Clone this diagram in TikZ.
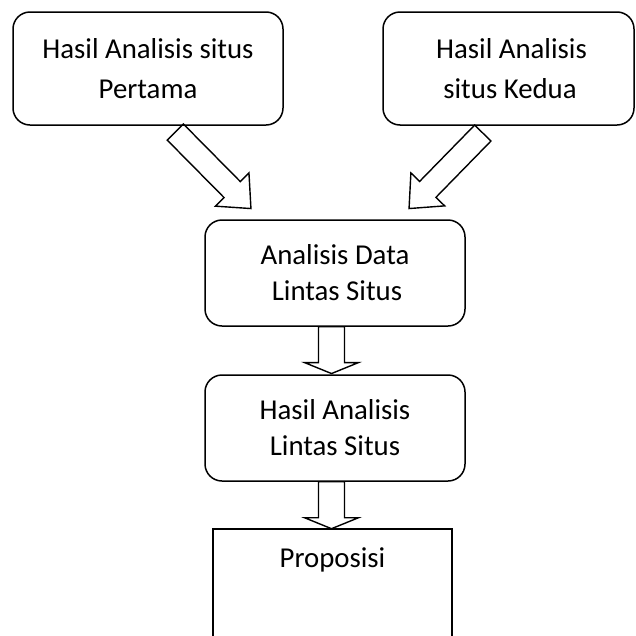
\documentclass[tikz,border=0pt]{standalone}
\usepackage{fontspec}
\setmainfont{Carlito}
\usetikzlibrary{calc}

% hollow block arrow: tail, tip, shaft half-width, head half-width, head length
\newcommand{\hollowarrow}[5]{%
  \coordinate (hb) at ($(#2)!#5!(#1)$);
  \draw[arrowline]
    ($(#1)!#3!90:(#2)$) -- ($(hb)!#3!90:(#2)$) -- ($(hb)!#4!90:(#2)$) -- (#2)
    -- ($(hb)!#4!-90:(#2)$) -- ($(hb)!#3!-90:(#2)$) -- ($(#1)!#3!-90:(#2)$) -- cycle;}

\tikzset{
  roundbox/.style={draw, line width=1.5pt, rounded corners=17pt, align=center,
    inner sep=0pt, font=\fontsize{28.8}{36}\selectfont},
  widebox/.style={roundbox, font=\fontsize{28.8}{40}\selectfont},
  plainbox/.style={draw, line width=1.5pt, inner sep=0pt},
  label text/.style={inner sep=0pt, font=\fontsize{28.8}{36}\selectfont},
  arrowline/.style={line width=1.4pt, line join=miter},
}

\begin{document}
\begin{tikzpicture}[x=1pt, y=-1pt]
  \useasboundingbox (0,0) rectangle (636,635);
  \clip (0,0) rectangle (636,635);

  % source boxes
  \node[widebox, minimum width=270pt, minimum height=113pt] (first) at (148,68.5)
    {Hasil Analisis situs\\Pertama};
  \node[widebox, minimum width=251pt, minimum height=113pt] (second) at (508.5,68.5)
    {\hspace*{6pt}Hasil Analisis\\\hspace*{3pt}situs Kedua};

  % cross-site analysis
  \node[roundbox, minimum width=260pt, minimum height=106pt] (cross) at (335,273)
    {Analisis Data\\\hspace*{4pt}Lintas Situs};
  \node[roundbox, minimum width=260pt, minimum height=106pt] (result) at (335,428)
    {Hasil Analisis\\Lintas Situs};

  % proposition box
  \node[plainbox, minimum width=239pt, minimum height=150pt, anchor=north] (prop) at (332.5,528) {};
  \node[label text, anchor=base] (proptext) at ($(prop.north)+(0,39)$) {Proposisi};

  % arrow end points
  \coordinate (t1) at ($(first.south)+(27.3,6.3)$);
  \coordinate (h1) at ($(cross.north west)+(46.7,-10.7)$);
  \coordinate (t2) at ($(second.south)+(-25.7,7.3)$);
  \coordinate (h2) at ($(cross.north east)+(-56.7,-10.7)$);
  \coordinate (t3) at ($(cross.south)+(-3.5,0)$);
  \coordinate (h3) at ($(result.north)+(-3.5,-0.7)$);
  \coordinate (t4) at ($(result.south)+(-3.5,0)$);
  \coordinate (h4) at ($(prop.north)+(-1,0.7)$);

  \hollowarrow{t1}{h1}{11.4pt}{23.6pt}{26.7pt}
  \hollowarrow{t2}{h2}{11.4pt}{23.6pt}{26.8pt}
  \hollowarrow{t3}{h3}{13pt}{27pt}{11pt}
  \hollowarrow{t4}{h4}{13pt}{27pt}{11pt}
\end{tikzpicture}
\end{document}
